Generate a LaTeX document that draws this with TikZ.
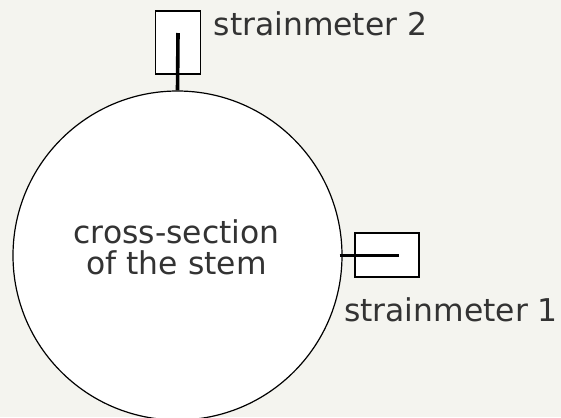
\documentclass[tikz,border=0pt]{standalone}
\usepackage{fontspec}
\newfontfamily\verd{DejaVu Sans}
\definecolor{paper}{RGB}{244,244,239}
\definecolor{inkgrey}{HTML}{333333}

\begin{document}
\begin{tikzpicture}[x=1bp, y=-1bp,
meter/.style={draw, fill=white, line width=1.3bp, inner sep=0},
rod/.style={line width=3.6bp},
caption/.style={text=inkgrey, font=\verd\fontsize{31.5}{31}\selectfont, inner sep=0}]
\fill[paper] (0,0) rectangle (561,417);
\useasboundingbox (0,0) rectangle (561,417);
\node (stem) [draw, fill=white, circle, line width=1.2bp, inner sep=0, minimum size=329bp] at (177.5,255.5){};
\node (m2) [meter, minimum width=44.6bp, minimum height=63bp] at (178,42.5){};
\node (m1) [meter, minimum width=64bp, minimum height=44bp] at (387,255){};
\coordinate (r2) at (178,33);
\coordinate (r1) at (399,255.5);
\draw[rod] (r2) -- (stem.north);
\draw[rod] ([xshift=-3bp]stem.east) -- (r1);
\node (t2) [caption, anchor=base west] at (213.5,35) {strainmeter 2};
\node (t1) [caption, anchor=base west] at (344,321) {strainmeter 1};
\node (ts) [caption, align=center, anchor=base] at (176.5,274) {cross-section\\of the stem};
\end{tikzpicture}
\end{document}
